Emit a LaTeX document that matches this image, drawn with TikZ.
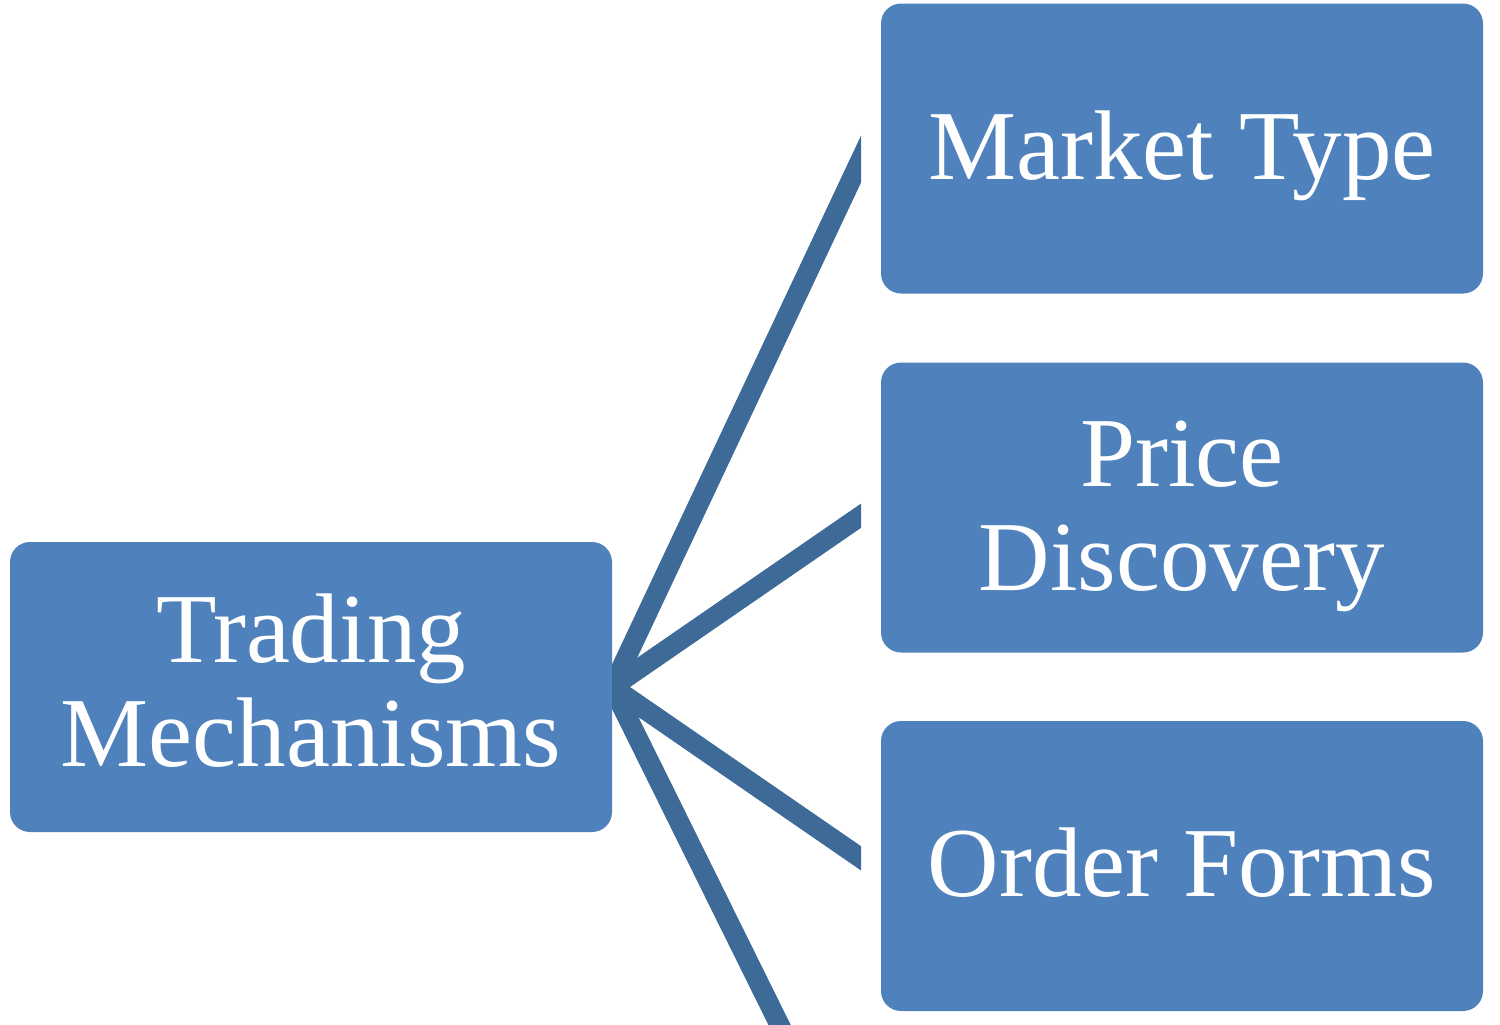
\documentclass[tikz,border=0pt]{standalone}
\usepackage{fontspec}
\setmainfont{Liberation Serif}
\definecolor{boxblue}{RGB}{79,129,189}
\definecolor{linkblue}{RGB}{62,106,151}
\tikzset{
    item/.style={fill=boxblue, rounded corners=10pt, minimum width=301pt, minimum height=145pt, inner sep=0pt},
    caption/.style={text=white, align=center, inner sep=0pt, font=\fontsize{49.5}{52}\selectfont},
    link/.style={draw=linkblue, line width=10pt}
}
\begin{document}
\begin{tikzpicture}[x=0.5pt, y=-0.5pt]
            \useasboundingbox (0, 0) rectangle (1500, 1024);

            \node[item] (tm) at (311, 687) {};
            \node[item] (mt) at (1182, 148.5) {};
            \node[item] (pd) at (1182, 507.5) {};
            \node[item] (of) at (1182, 866) {};
            \coordinate (next) at (881, 1230);

            \node[caption] at ([yshift=3pt]tm.center) {Trading\\Mechanisms};
            \node[caption] at ([yshift=-3.5pt]mt.center) {Market Type};
            \node[caption] at ([yshift=-4.5pt]pd.center) {Price\\Discovery};
            \node[caption] at ([yshift=1.5pt]of.center) {Order Forms};

            \begin{scope}
                \clip (612, 0) rectangle (861, 1024);
                \draw[link] (tm.east) -- ([yshift=15.5pt]mt.west);
                \draw[link] (tm.east) -- ([yshift=2.65pt]pd.west);
                \draw[link] (tm.east) -- ([yshift=-2.9pt]of.west);
                \draw[link] (tm.east) -- (next);
            \end{scope}
        \end{tikzpicture}
\end{document}
